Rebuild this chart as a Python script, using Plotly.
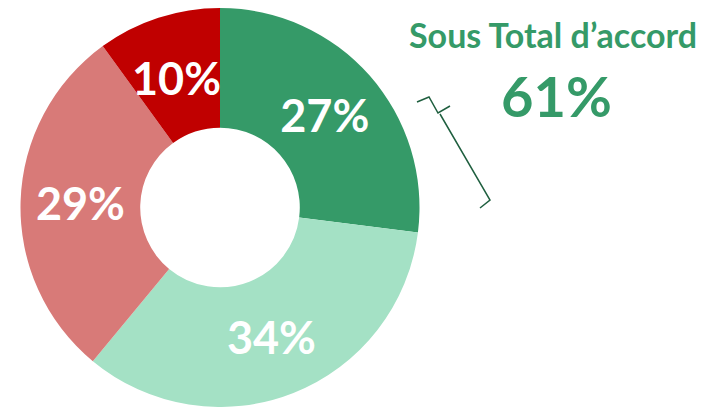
import math
import plotly.graph_objects as go

labels = ["Tout à fait d'accord", "Plutôt d'accord", "Plutôt pas d'accord", "Pas du tout d'accord"]
values = [27, 34, 29, 10]
colors = ["#359a68", "#a4e1c5", "#d87a78", "#c00000"]
subtotal_title = "Sous Total d’accord"
subtotal_value = "61%"

W, H = 708, 407
cx, cy, R, hole = 220, 208, 200, 0.4

# slices too narrow for plotly's own inside text get an annotation at mid-slice
small = [v < 15 for v in values]

fig = go.Figure()
fig.add_trace(go.Pie(
    labels=labels,
    values=values,
    text=[f"{v}%" for v in values],
    textinfo="text",
    textposition=["none" if s else "inside" for s in small],
    insidetextorientation="horizontal",
    textfont=dict(family="Lato", size=45, color="white", weight="bold"),
    hole=hole,
    sort=False,
    direction="clockwise",
    rotation=0,
    marker=dict(colors=colors, line=dict(width=0)),
    domain=dict(x=[(cx - R) / W, (cx + R) / W], y=[0, 1 - (cy - R) / H]),
    showlegend=False,
    hoverinfo="label+percent",
))

total = sum(values)
cum = 0
for v, s in zip(values, small):
    mid = (cum + v / 2) / total * 2 * math.pi
    cum += v
    if not s:
        continue
    rr = R * (1 + hole) / 2
    x = cx + rr * math.sin(mid)
    y = cy - rr * math.cos(mid) + 3
    fig.add_annotation(x=x / W, y=1 - y / H, xref="paper", yref="paper",
                       text=f"<b>{v}%</b>", showarrow=False,
                       xanchor="center", yanchor="middle",
                       font=dict(family="Lato", size=45, color="white"))

fig.add_annotation(x=553 / W, y=1 - 34 / H, xref="paper", yref="paper",
                   text=f"<b>{subtotal_title}</b>", showarrow=False,
                   xanchor="center", yanchor="middle",
                   font=dict(family="Lato", size=34, color="#359a68"))
fig.add_annotation(x=556 / W, y=1 - 96 / H, xref="paper", yref="paper",
                   text=f"<b>{subtotal_value}</b>", showarrow=False,
                   xanchor="center", yanchor="middle",
                   font=dict(family="Lato", size=56, color="#359a68"))

# bracket
pts = [(417, 102), (429, 97), (438, 113), (450, 106)]
pts2 = [(440, 114), (490, 200), (480, 208)]
for p in (pts, pts2):
    path = "M " + " L ".join(f"{x / W} {1 - y / H}" for x, y in p)
    fig.add_shape(type="path", path=path, xref="paper", yref="paper",
                  line=dict(color="#1f5f3f", width=1.5))

fig.update_layout(width=W, height=H, margin=dict(l=0, r=0, t=0, b=0),
                  paper_bgcolor="white", plot_bgcolor="white")
fig.write_html("out.html", config={"displayModeBar": False},
               post_script="document.body.style.margin='0';")
